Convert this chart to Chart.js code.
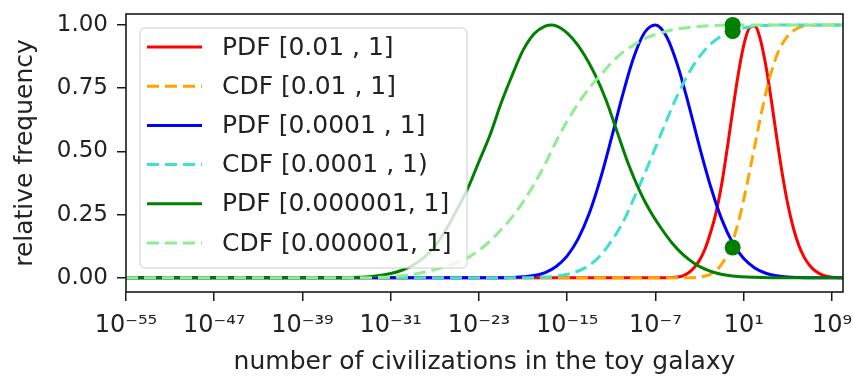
<!DOCTYPE html>
<html>
<head>
<meta charset="utf-8">
<script src="https://cdn.jsdelivr.net/npm/chart.js@4.4.1/dist/chart.umd.min.js"></script>
<style>
  html, body { margin: 0; padding: 0; background: #fff; }
  #wrap { width: 853px; height: 381px; }
</style>
</head>
<body>
<div id="wrap"><canvas id="c"></canvas></div>
<script>
// x positions are kept as powers of ten (exponents)
var xTickExps = [-55, -47, -39, -31, -23, -15, -7, 1, 9];
var yTicks = [0, 0.25, 0.5, 0.75, 1];

var redPdfExp = [-55, -6, -5, -4.5, -4, -3.5, -3, -2.5, -2, -1.5, -1, -0.5, 0, 0.5, 1, 1.5, 2, 2.5, 3, 3.5, 4, 4.5, 5, 5.5, 6, 6.5, 7, 7.5, 8, 8.5, 9, 10];
var redPdfVal = [0, 0, 0.003, 0.008, 0.02, 0.04, 0.07, 0.115, 0.18, 0.26, 0.37, 0.51, 0.661, 0.804, 0.919, 0.987, 0.996, 0.944, 0.84, 0.703, 0.552, 0.41, 0.29, 0.197, 0.128, 0.08, 0.048, 0.027, 0.014, 0.006, 0.002, 0];

var orangeCdfExp = [-55, -4, -3, -2.5, -2, -1.5, -1, -0.5, 0, 0.5, 1, 1.5, 2, 2.5, 3, 3.5, 4, 4.5, 5, 5.5, 6, 7, 8, 10];
var orangeCdfVal = [0, 0, 0.003, 0.007, 0.015, 0.029, 0.054, 0.092, 0.145, 0.218, 0.309, 0.413, 0.522, 0.63, 0.729, 0.813, 0.879, 0.925, 0.957, 0.977, 0.989, 0.998, 1, 1];

var bluePdfExp = [-55, -21, -20, -19, -18, -17, -16, -15, -14, -13, -12, -11, -10, -9, -8, -7, -6, -5, -4, -3, -2, -1, 0, 1, 2, 3, 4, 5, 6, 7, 10];
var bluePdfVal = [0, 0, 0.0015, 0.004, 0.009, 0.021, 0.045, 0.087, 0.155, 0.255, 0.39, 0.551, 0.719, 0.868, 0.969, 1.0, 0.954, 0.841, 0.686, 0.517, 0.361, 0.232, 0.138, 0.076, 0.039, 0.018, 0.008, 0.003, 0.001, 0, 0];

var cyanCdfExp = [-55, -20, -19, -18, -17, -16, -15, -14, -13, -12, -11, -10, -9, -8, -7, -6, -5, -4, -3, -2, -1, 0, 1, 2, 3, 4, 10];
var cyanCdfVal = [0, 0, 0.0004, 0.001, 0.003, 0.006, 0.014, 0.027, 0.05, 0.088, 0.145, 0.215, 0.31, 0.41, 0.515, 0.622, 0.722, 0.808, 0.875, 0.924, 0.956, 0.977, 0.988, 0.995, 0.998, 1, 1];

var greenPdfExp = [-55, -36, -35, -34, -33, -32, -31, -30, -29, -28, -27, -26, -25, -24, -23, -22, -21, -20, -19, -18, -17, -16.4, -15.5, -14.5, -13.5, -12.5, -11.5, -10.5, -9.5, -8.5, -7.5, -6.5, -5.5, -4.5, -3.5, -2.5, -1.5, -0.5, 0.5, 2, 3.5, 5, 10];
var greenPdfVal = [0, 0, 0.0005, 0.002, 0.004, 0.009, 0.017, 0.03, 0.05, 0.08, 0.125, 0.19, 0.27, 0.355, 0.46, 0.565, 0.69, 0.8, 0.9, 0.965, 0.995, 1.0, 0.985, 0.945, 0.885, 0.805, 0.705, 0.58, 0.455, 0.35, 0.265, 0.197, 0.138, 0.092, 0.058, 0.034, 0.019, 0.01, 0.005, 0.002, 0.0005, 0, 0];

var lgreenCdfExp = [-55, -33, -32, -31, -30, -29, -28, -27, -26, -25, -24, -23, -22, -21, -20, -19, -18, -17, -16, -15, -14, -13, -12, -11, -10, -9, -8, -7, -6, -5, -4, -3, -2, -1, 0, 10];
var lgreenCdfVal = [0, 0, 0.002, 0.004, 0.008, 0.014, 0.022, 0.033, 0.045, 0.06, 0.08, 0.108, 0.145, 0.19, 0.24, 0.30, 0.37, 0.45, 0.54, 0.62, 0.69, 0.75, 0.80, 0.85, 0.89, 0.92, 0.945, 0.962, 0.975, 0.984, 0.99, 0.994, 0.997, 0.999, 1, 1];

var dotExp = [0, 0, 0];
var dotVal = [1.0, 0.975, 0.12];

var SUP = { '-': '\u207B', '0': '\u2070', '1': '\u00B9', '2': '\u00B2', '3': '\u00B3',
  '4': '\u2074', '5': '\u2075', '6': '\u2076', '7': '\u2077', '8': '\u2078', '9': '\u2079' };

function toSup(n) {
  return String(n).split('').map(function (ch) { return SUP[ch]; }).join('');
}

function pts(exps, vals) {
  return exps.map(function (e, i) { return { x: Math.pow(10, e), y: vals[i] }; });
}

var TEXT = '#222222';
var FONT = "'DejaVu Sans', sans-serif";

function lineSet(label, color, dash, exps, vals, order) {
  return {
    label: label,
    data: pts(exps, vals),
    borderColor: color,
    backgroundColor: color,
    borderWidth: 3,
    borderDash: dash,
    pointRadius: 0,
    fill: false,
    cubicInterpolationMode: 'monotone',
    order: order
  };
}

var DASH = [12, 6];

var datasets = [
  lineSet('PDF [0.01 , 1]', '#ff0000', [], redPdfExp, redPdfVal, 6),
  lineSet('CDF [0.01 , 1]', '#ffa500', DASH, orangeCdfExp, orangeCdfVal, 5),
  lineSet('PDF [0.0001 , 1]', '#0000ff', [], bluePdfExp, bluePdfVal, 4),
  lineSet('CDF [0.0001 , 1)', '#40e0d0', DASH, cyanCdfExp, cyanCdfVal, 3),
  lineSet('PDF [0.000001, 1]', '#008000', [], greenPdfExp, greenPdfVal, 2),
  lineSet('CDF [0.000001, 1]', '#90ee90', DASH, lgreenCdfExp, lgreenCdfVal, 1),
  {
    data: pts(dotExp, dotVal),
    showLine: false,
    pointRadius: 8,
    pointHoverRadius: 8,
    pointBackgroundColor: '#008000',
    pointBorderWidth: 0,
    order: 0
  }
];

function roundRectPath(ctx, x, y, w, h, r) {
  ctx.beginPath();
  ctx.moveTo(x + r, y);
  ctx.arcTo(x + w, y, x + w, y + h, r);
  ctx.arcTo(x + w, y + h, x, y + h, r);
  ctx.arcTo(x, y + h, x, y, r);
  ctx.arcTo(x, y, x + w, y, r);
  ctx.closePath();
}

// matplotlib-style legend inside the axes plus the closed axes frame
var legendAndFrame = {
  id: 'legendAndFrame',
  afterDatasetsDraw: function (chart) {
    var ctx = chart.ctx;
    var a = chart.chartArea;
    var lx = a.left + 14, ly = a.top + 14;
    ctx.save();
    roundRectPath(ctx, lx, ly, 327, 240, 5);
    ctx.fillStyle = 'rgba(255,255,255,0.8)';
    ctx.fill();
    ctx.strokeStyle = '#cccccc';
    ctx.lineWidth = 1;
    ctx.stroke();

    ctx.font = '25px ' + FONT;
    ctx.textBaseline = 'middle';
    ctx.textAlign = 'left';
    var row = 0;
    chart.data.datasets.forEach(function (ds) {
      if (!ds.label) return;
      var y = ly + 19 + row * 39.2;
      ctx.beginPath();
      ctx.setLineDash(ds.borderDash || []);
      ctx.strokeStyle = ds.borderColor;
      ctx.lineWidth = 3;
      ctx.moveTo(lx + 7, y);
      ctx.lineTo(lx + 62, y);
      ctx.stroke();
      ctx.setLineDash([]);
      ctx.fillStyle = TEXT;
      ctx.fillText(ds.label, lx + 82, y + 1);
      row++;
    });

    ctx.strokeStyle = '#1a1a1a';
    ctx.lineWidth = 1.6;
    ctx.strokeRect(a.left, a.top, a.right - a.left, a.bottom - a.top);
    ctx.restore();
  }
};

Chart.defaults.font.family = FONT;

new Chart(document.getElementById('c').getContext('2d'), {
  type: 'line',
  data: { datasets: datasets },
  options: {
    responsive: true,
    maintainAspectRatio: false,
    animation: false,
    layout: { padding: { left: 0, right: 10, top: 14, bottom: 0 } },
    plugins: {
      legend: { display: false },
      tooltip: { enabled: false }
    },
    scales: {
      x: {
        type: 'logarithmic',
        min: 1e-55,
        max: 1e10,
        afterBuildTicks: function (s) {
          s.ticks = xTickExps.map(function (e) { return { value: Math.pow(10, e) }; });
        },
        afterFit: function (s) {
          s.height = 89;
          s.paddingLeft = 0;
          s.paddingRight = 0;
        },
        ticks: {
          autoSkip: false,
          maxRotation: 0,
          padding: 10,
          color: TEXT,
          font: { size: 24 },
          callback: function (v) { return '10' + toSup(Math.round(Math.log10(v))); }
        },
        grid: { drawOnChartArea: false, tickLength: 9, color: '#1a1a1a', lineWidth: 1.5 },
        border: { display: false },
        title: {
          display: true,
          text: 'number of civilizations in the toy galaxy',
          color: TEXT,
          font: { size: 25 },
          padding: { top: 0, bottom: 4 }
        }
      },
      y: {
        min: -0.056,
        max: 1.043,
        afterBuildTicks: function (s) {
          s.ticks = yTicks.map(function (v) { return { value: v }; });
        },
        afterFit: function (s) {
          s.width = 126;
          s.paddingTop = 0;
          s.paddingBottom = 0;
        },
        ticks: {
          padding: 9,
          color: TEXT,
          font: { size: 23 },
          callback: function (v) { return v.toFixed(2); }
        },
        grid: { drawOnChartArea: false, tickLength: 9, color: '#1a1a1a', lineWidth: 1.5 },
        border: { display: false },
        title: {
          display: true,
          text: 'relative frequency',
          color: TEXT,
          font: { size: 25 },
          padding: { top: 10, bottom: 0 }
        }
      }
    }
  },
  plugins: [legendAndFrame]
});
</script>
</body>
</html>
